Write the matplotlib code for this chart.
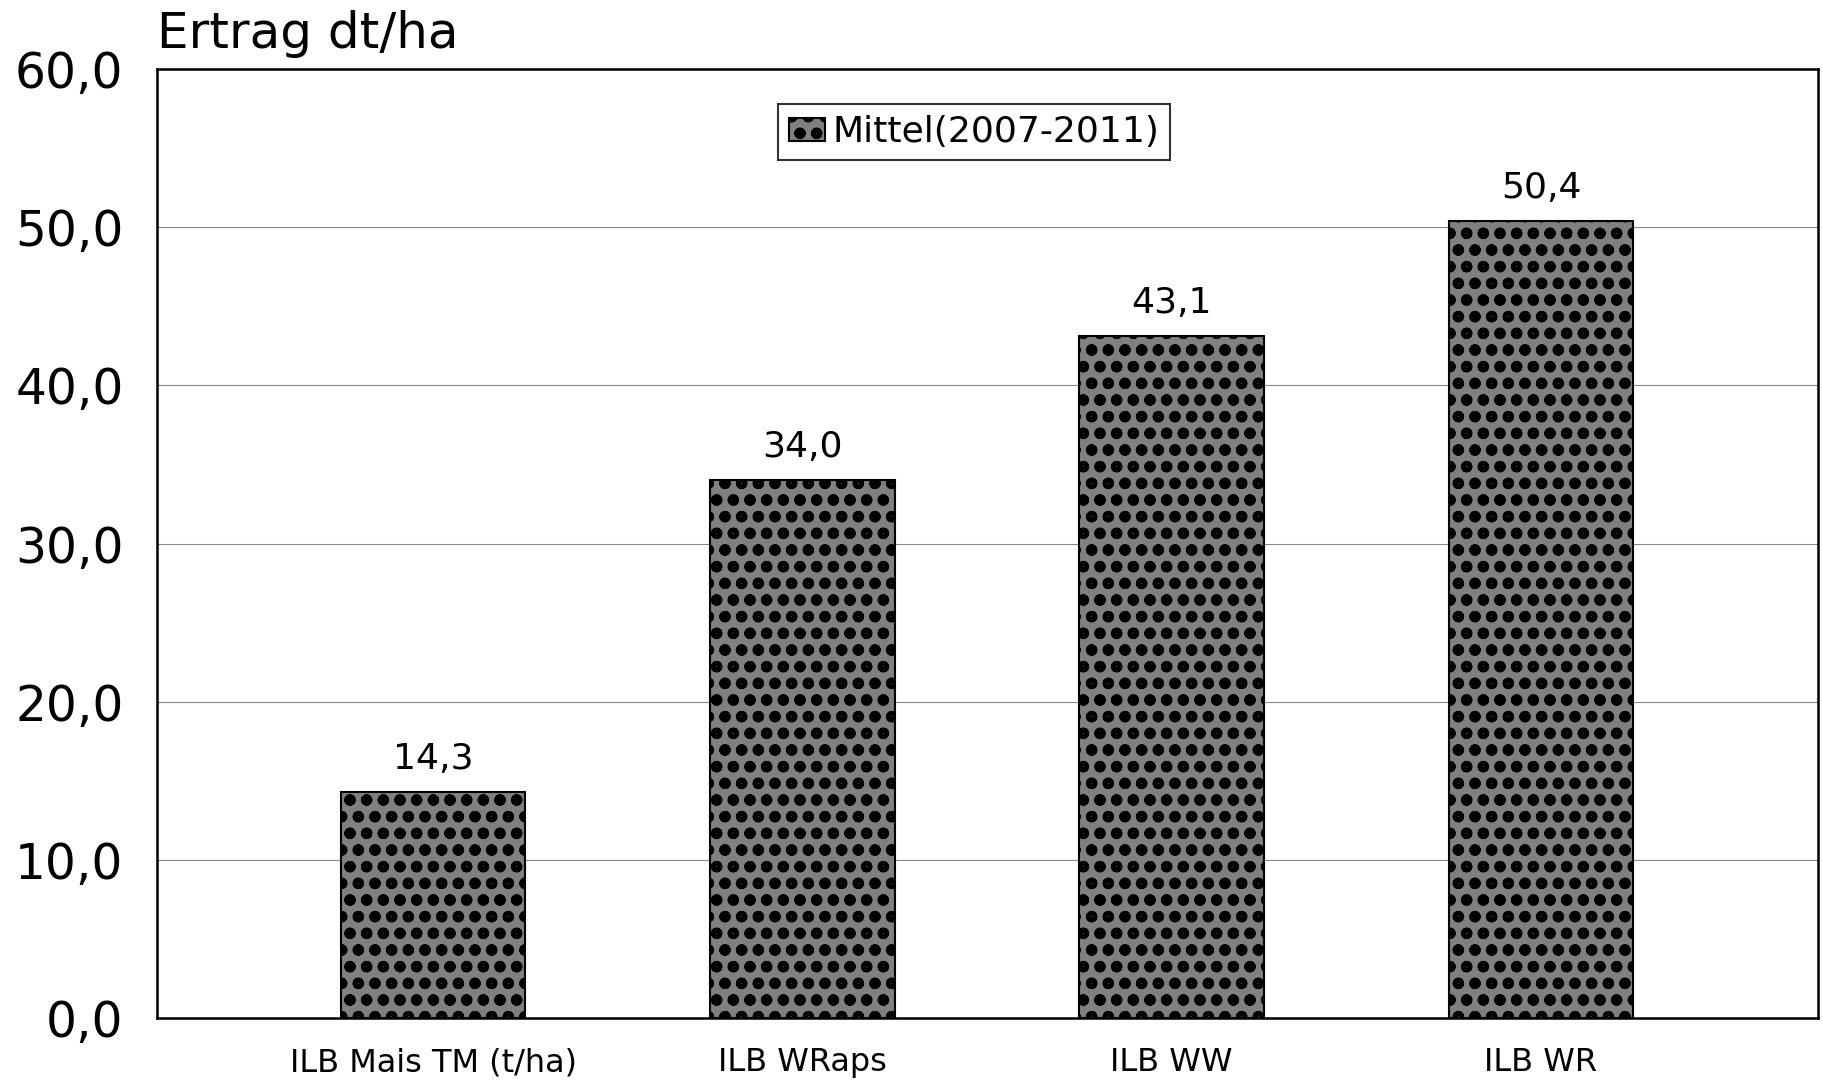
import matplotlib.pyplot as plt
from matplotlib.ticker import FuncFormatter

kategorien = ['ILB Mais TM (t/ha)', 'ILB WRaps', 'ILB WW', 'ILB WR']
mittel = [14.3, 34.0, 43.1, 50.4]
y_ticks = [0, 10, 20, 30, 40, 50, 60]

plt.rcParams['font.family'] = ['DejaVu Sans']
plt.rcParams['hatch.linewidth'] = 3.5

fig = plt.figure(figsize=(18.24, 10.8), dpi=100)
ax = fig.add_axes([0.086, 0.0574, 0.9107, 0.8787])

x = range(len(kategorien))
bars = ax.bar(x, mittel, width=0.5, color='#808080', edgecolor='black',
              hatch='o', linewidth=1.5, label='Mittel(2007-2011)', zorder=3)

for xi, v in zip(x, mittel):
    ax.text(xi, v + 1.0, f'{v:.1f}'.replace('.', ','), ha='center', va='bottom',
            fontsize=26)

ax.set_xlim(-0.748, 3.75)
ax.set_ylim(0, 60)
ax.set_yticks(y_ticks)
ax.yaxis.set_major_formatter(FuncFormatter(lambda v, p: f'{v:.1f}'.replace('.', ',')))
ax.set_xticks(list(x))
ax.set_xticklabels(kategorien, fontsize=23)
ax.tick_params(axis='y', labelsize=35, length=0, pad=24)
ax.tick_params(axis='x', length=0, pad=21)
ax.yaxis.grid(True, color='#888888', linewidth=0.8, zorder=0)
for s in ax.spines.values():
    s.set_linewidth(1.8)

ax.text(0.0, 1.022, 'Ertrag dt/ha', transform=ax.transAxes, fontsize=36,
        ha='left', va='baseline')

leg = ax.legend(loc='upper center', bbox_to_anchor=(0.492, 0.963), fontsize=26,
                frameon=True, fancybox=False, edgecolor='black',
                handlelength=1.0, handleheight=0.6, handletextpad=0.2,
                borderpad=0.3, borderaxespad=0)
leg.get_frame().set_linewidth(1.5)

fig.savefig('out.png', dpi=100)
